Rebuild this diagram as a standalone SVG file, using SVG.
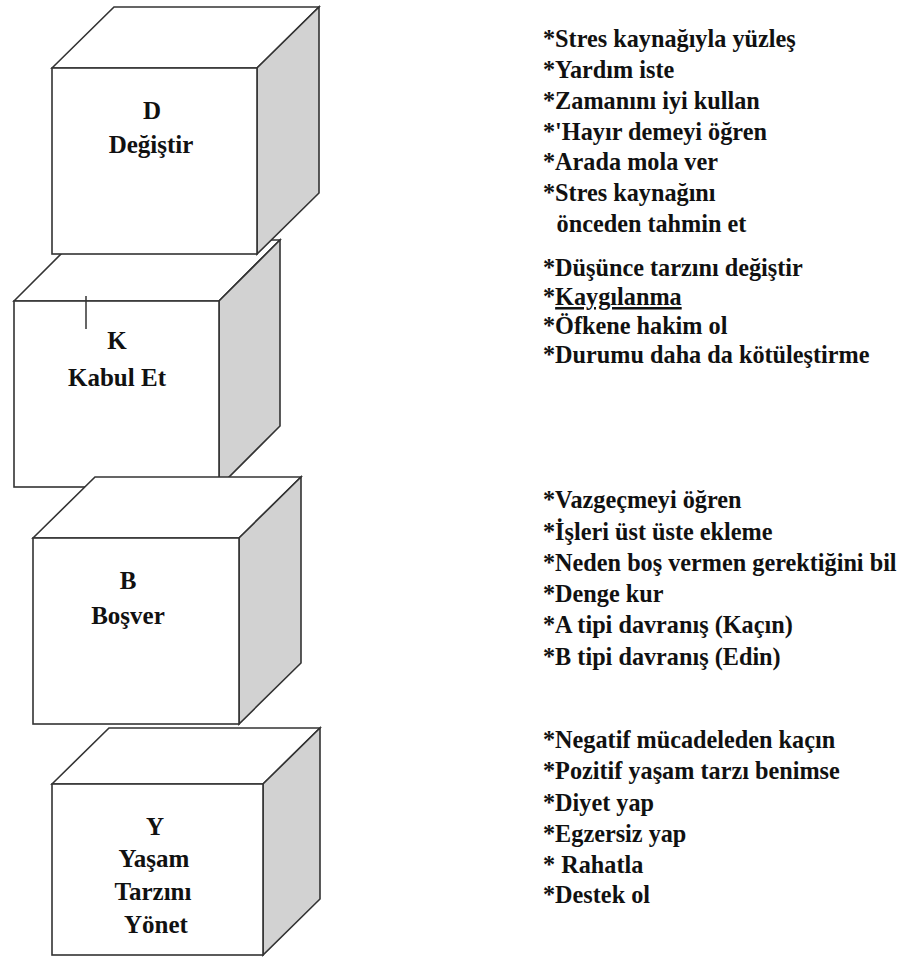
<svg xmlns="http://www.w3.org/2000/svg" width="907" height="958" viewBox="0 0 907 958">
<style>
.face{fill:#ffffff;stroke:#333333;stroke-width:1.6;stroke-linejoin:miter}
.side{fill:#d2d2d2;stroke:#333333;stroke-width:1.6;stroke-linejoin:miter}
.lbl{font-weight:700;font-size:25px;fill:#111111;text-anchor:middle}
.txt{font-weight:700;font-size:25px;fill:#111111}
</style>
<rect width="907" height="958" fill="#ffffff"/>
<g font-family="Liberation Serif, serif">
<g id="node-K">
<polygon class="face" points="14,301 75,240 280,240 219,301"/>
<polygon class="side" points="219,301 280,240 280,426 219,487"/>
<rect class="face" x="14" y="301" width="205" height="186"/>
<line x1="86" y1="296" x2="86" y2="329" stroke="#333333" stroke-width="1.5"/>
<text class="lbl" x="117" y="349">K</text>
<text class="lbl" x="117" y="386">Kabul Et</text>
</g>
<g id="node-D">
<polygon class="face" points="52,68 114,7 319,7 257,68"/>
<polygon class="side" points="257,68 319,7 319,193 257,254"/>
<rect class="face" x="52" y="68" width="205" height="186"/>
<text class="lbl" x="152" y="119">D</text>
<text class="lbl" x="151" y="153">Değiştir</text>
</g>
<g id="node-B">
<polygon class="face" points="33,538 95,477 301,477 239,538"/>
<polygon class="side" points="239,538 301,477 301,663 239,724"/>
<rect class="face" x="33" y="538" width="206" height="186"/>
<text class="lbl" x="128" y="589">B</text>
<text class="lbl" x="128" y="624">Boşver</text>
</g>
<g id="node-Y">
<polygon class="face" points="52,784 109,728 320,728 263,784"/>
<polygon class="side" points="263,784 320,728 320,899 263,955"/>
<rect class="face" x="52" y="784" width="211" height="171"/>
<text class="lbl" x="155" y="835">Y</text>
<text class="lbl" x="154" y="867">Yaşam</text>
<text class="lbl" x="153" y="900">Tarzını</text>
<text class="lbl" x="156" y="933">Yönet</text>
</g>
<g id="connectors"></g>
<g id="list-D" transform="translate(543 0) scale(0.97 1)">
<text class="txt" x="0" y="47">*Stres kaynağıyla yüzleş</text>
<text class="txt" x="0" y="78">*Yardım iste</text>
<text class="txt" x="0" y="109">*Zamanını iyi kullan</text>
<text class="txt" x="0" y="140">*'Hayır demeyi öğren</text>
<text class="txt" x="0" y="170">*Arada mola ver</text>
<text class="txt" x="0" y="201">*Stres kaynağını</text>
<text class="txt" x="14" y="232">önceden tahmin et</text>
</g>
<g id="list-K" transform="translate(543 0) scale(0.97 1)">
<text class="txt" x="0" y="276">*Düşünce tarzını değiştir</text>
<text class="txt" x="0" y="305">*<tspan text-decoration="underline">Kaygılanma</tspan></text>
<text class="txt" x="0" y="334">*Öfkene hakim ol</text>
<text class="txt" x="0" y="363">*Durumu daha da kötüleştirme</text>
</g>
<g id="list-B" transform="translate(543 0) scale(0.97 1)">
<text class="txt" x="0" y="508">*Vazgeçmeyi öğren</text>
<text class="txt" x="0" y="540">*İşleri üst üste ekleme</text>
<text class="txt" x="0" y="571">*Neden boş vermen gerektiğini bil</text>
<text class="txt" x="0" y="602">*Denge kur</text>
<text class="txt" x="0" y="633">*A tipi davranış (Kaçın)</text>
<text class="txt" x="0" y="665">*B tipi davranış (Edin)</text>
</g>
<g id="list-Y" transform="translate(543 0) scale(0.97 1)">
<text class="txt" x="0" y="748">*Negatif mücadeleden kaçın</text>
<text class="txt" x="0" y="779">*Pozitif yaşam tarzı benimse</text>
<text class="txt" x="0" y="811">*Diyet yap</text>
<text class="txt" x="0" y="842">*Egzersiz yap</text>
<text class="txt" x="0" y="873">* Rahatla</text>
<text class="txt" x="0" y="903">*Destek ol</text>
</g>
</g>
</svg>
